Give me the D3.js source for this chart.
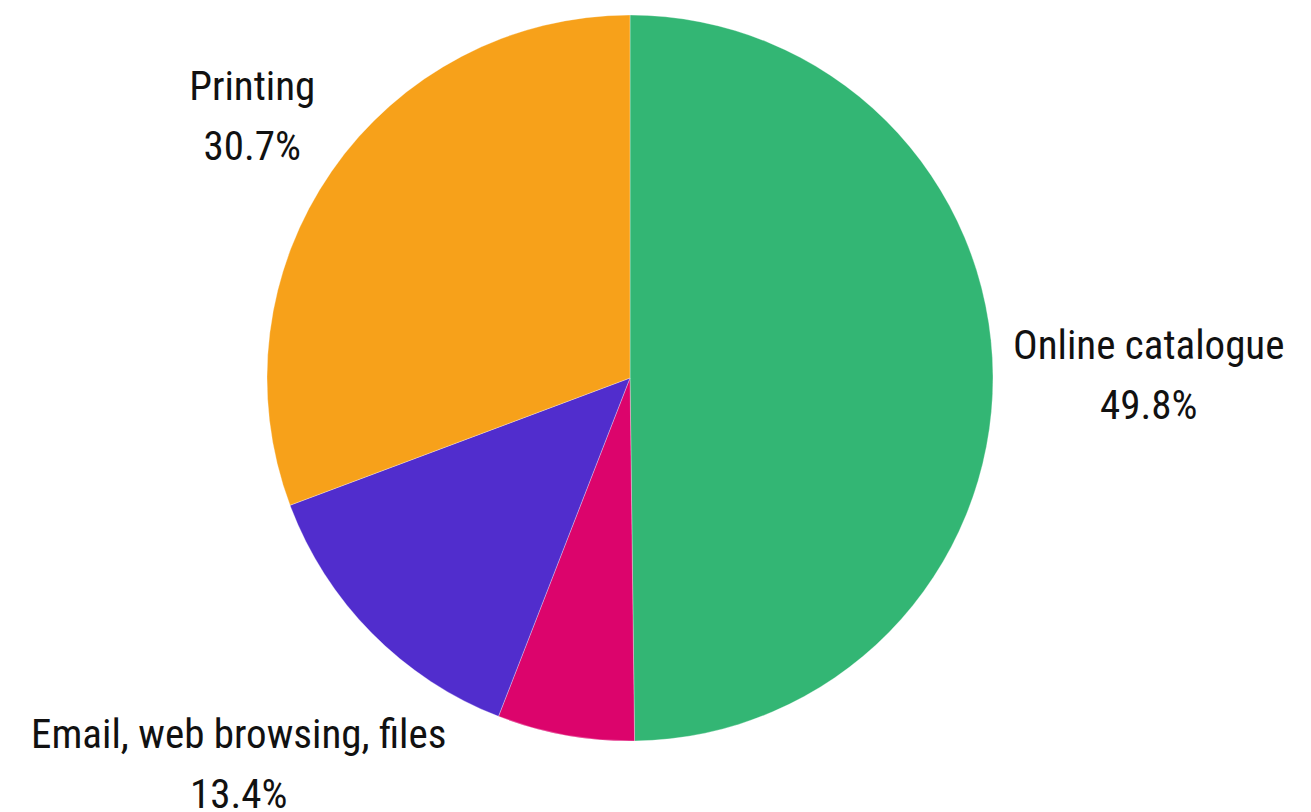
<!DOCTYPE html>
<html>
<head>
<meta charset="utf-8">
<script src="https://cdn.jsdelivr.net/npm/d3@7"></script>
<style>
  html, body { margin: 0; padding: 0; background: #fff; }
  svg { display: block; }
  text { font-family: "Roboto Condensed", Roboto, sans-serif; fill: #111; }
</style>
</head>
<body>
<svg id="chart" width="1311" height="812"></svg>
<script>
// Share of computer use by activity (percent)
const categories = ["Online catalogue", "Other", "Email, web browsing, files", "Printing"];
const shares = [49.8, 6.1, 13.4, 30.7];
const colors = ["#33b674", "#dc046c", "#512dcd", "#f7a11a"];
const labelled = [true, false, true, true];

const cx = 630, cy = 378, radius = 363;
const labelGap = 20;        // distance from rim to the label box
const fontSize = 41, lineGap = 60;

const svg = d3.select("#chart");
const g = svg.append("g").attr("transform", `translate(${cx},${cy})`);

const data = categories.map((c, i) => ({ name: c, value: shares[i], color: colors[i], show: labelled[i] }));

const pie = d3.pie().value(d => d.value).sort(null);
const arc = d3.arc().innerRadius(0).outerRadius(radius);
const arcs = pie(data);

g.selectAll("path.slice")
  .data(arcs)
  .join("path")
  .attr("class", "slice")
  .attr("d", arc)
  .attr("fill", d => d.data.color)
  .attr("stroke", "#fff")
  .attr("stroke-width", 0.6)
  .attr("stroke-opacity", 0.5);

// labels that would crowd their neighbour are pushed further out
const push = { "Email, web browsing, files": 90 };

arcs.filter(a => a.data.show).forEach(a => {
  const mid = (a.startAngle + a.endAngle) / 2;
  const ux = Math.sin(mid), uy = -Math.cos(mid);
  const r = radius + labelGap + (push[a.data.name] || 0);
  const ax = ux * r, ay = uy * r;

  const lab = g.append("g");
  lab.append("text")
    .attr("text-anchor", "middle")
    .attr("font-size", fontSize)
    .attr("y", 0)
    .text(a.data.name);
  lab.append("text")
    .attr("text-anchor", "middle")
    .attr("font-size", fontSize)
    .attr("y", lineGap)
    .text(d3.format(".1f")(a.data.value) + "%");

  const bb = lab.node().getBBox();
  const w = bb.width, h = bb.height;
  const bcx = bb.x + w / 2, bcy = bb.y + h / 2;
  // move the box outward until its edge touches the anchor point
  const t = Math.min(
    Math.abs(ux) > 1e-6 ? (w / 2) / Math.abs(ux) : Infinity,
    Math.abs(uy) > 1e-6 ? (h / 2) / Math.abs(uy) : Infinity
  );
  lab.attr("transform", `translate(${ax + ux * t - bcx},${ay + uy * t - bcy})`);
});
</script>
</body>
</html>
